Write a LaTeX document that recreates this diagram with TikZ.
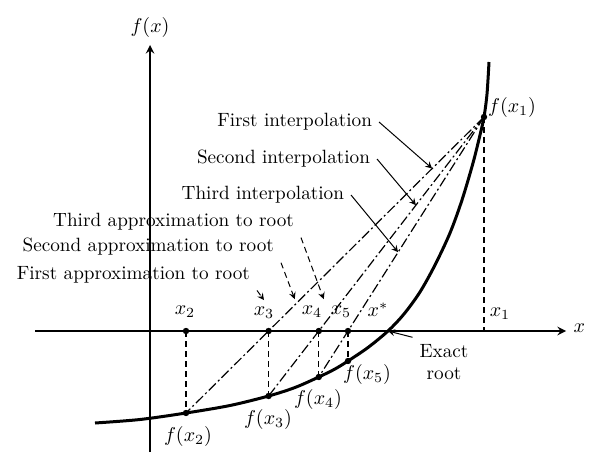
\documentclass[tikz,border=0pt]{standalone}
\usetikzlibrary{arrows,calc}
\tikzset{
  axis/.style={line width=0.9pt},
  curve/.style={line width=1.5pt},
  secant/.style={line width=0.6pt,dash pattern=on 5pt off 1.5pt on 1pt off 1.5pt},
  drop/.style={line width=0.6pt,dash pattern=on 3pt off 2pt},
  dot/.style={circle,fill,inner sep=0pt,minimum size=3.2pt},
  pointer/.style={line width=0.5pt,->},
  dpointer/.style={line width=0.5pt,->,dash pattern=on 3pt off 2pt}
}
\begin{document}
\begin{tikzpicture}[>=stealth,x=0.5pt,y=-0.5pt,font=\fontsize{9.6}{11}\selectfont]
  \useasboundingbox (0,0) rectangle (593,454);
  %Truc toa do
  \coordinate (xs) at (35,331);
  \coordinate (xe) at (566,331);
  \coordinate (ys) at (150,452);
  \coordinate (ye) at (150,45);
  \draw[axis,->] (xs) -- (xe) node[right,yshift=1.5pt] (lx) {$x$};
  \draw[axis,->] (ys) -- (ye) node[above] (ly) {$f(x)$};
  %Do thi ham so
  \draw[curve] plot[smooth,tension=0.5] coordinates {(95,423) (140,419.5) (186,413) (230,405.5) (268.6,396) (295,387.5) (318.8,377) (335,369) (348,361) (368,347.5) (388,331) (404,314) (420,292) (435,265) (450,233) (462,200) (473,163) (480,135) (484,117) (487,94) (489,62)};
  %Cac diem tren truc
  \node[dot] (x2) at (186,331) {};
  \node[dot] (x3) at (268.6,331) {};
  \node[dot] (x4) at (318.8,331) {};
  \node[dot] (x5) at (348,331) {};
  \coordinate (xr) at (388,331);
  \coordinate (x1) at (484,331);
  %Cac diem tren do thi
  \node[dot] (f1) at (484,117) {};
  \node[dot] (f2) at (186,413) {};
  \node[dot] (f3) at (268.6,396) {};
  \node[dot] (f4) at (318.8,377) {};
  \node[dot] (f5) at (348,361) {};
  %Duong doc
  \draw[drop] (f1.center) -- (x1);
  \draw[drop] (x2.center) -- (f2.center);
  \draw[drop] (x3.center) -- (f3.center);
  \draw[drop] (x4.center) -- (f4.center);
  \draw[drop] (x5.center) -- (f5.center);
  %Cac day cung
  \draw[secant] (f1.center) -- (f2.center);
  \draw[secant] (f1.center) -- (f3.center);
  \draw[secant] (f1.center) -- (f4.center);
  %Nhan
  \node (lx2) at (185,312) {$x_2$};
  \node (lx3) at (264,313) {$x_3$};
  \node (lx4) at (312,312) {$x_4$};
  \node (lx5) at (341,312) {$x_5$};
  \node (lxr) at (378,310) {$x^*$};
  \node (lx1) at (500,314) {$x_1$};
  \node (lf1) at (512,108) {$f(x_1)$};
  \node (lf2) at (188,436) {$f(x_2)$};
  \node (lf3) at (268,419) {$f(x_3)$};
  \node (lf4) at (318,399) {$f(x_4)$};
  \node (lf5) at (367,374) {$f(x_5)$};
  %Chu thich day cung
  \coordinate (a1) at ($(f1.center)!0.174!(f2.center)$);
  \coordinate (a2) at ($(f1.center)!0.316!(f3.center)$);
  \coordinate (a3) at ($(f1.center)!0.52!(f4.center)$);
  \node[anchor=east] (t1) at (379,122) {First interpolation};
  \node[anchor=east] (t2) at (377,159) {Second interpolation};
  \node[anchor=east] (t3) at (351,195) {Third interpolation};
  \draw[pointer] (t1.east) -- (a1);
  \draw[pointer] (t2.east) -- (a2);
  \draw[pointer] (t3.east) -- (a3);
  %Chu thich nghiem
  \node[anchor=east] (r3) at (301,222) {Third approximation to root};
  \node[anchor=east] (r2) at (281,247) {Second approximation to root};
  \node[anchor=east] (r1) at (257,275) {First approximation to root};
  \draw[dpointer] (r3.south east) -- (lx5.north west);
  \draw[dpointer] (r2.south east) -- (lx4.north west);
  \draw[dpointer] (r1.south east) -- (lx3.north);
  \node[align=center] (ex) at (444,362) {Exact\\root};
  \draw[pointer] (ex.north west) -- (xr);
\end{tikzpicture}
\end{document}
